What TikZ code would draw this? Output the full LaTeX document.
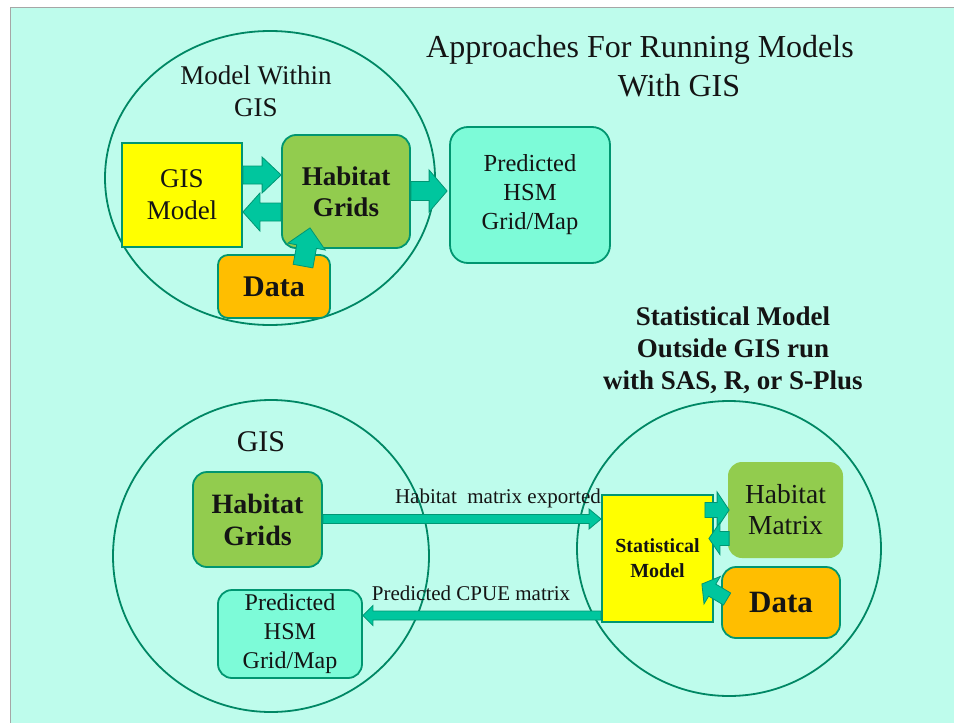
\documentclass[tikz,border=0pt]{standalone}
\usepackage{fontspec}
\setmainfont{Liberation Serif}
\usetikzlibrary{calc}
\definecolor{bgaqua}{RGB}{190,252,236}
\definecolor{ringcol}{RGB}{0,135,100}
\definecolor{boxline}{RGB}{0,150,112}
\definecolor{yel}{RGB}{255,255,0}
\definecolor{grn}{RGB}{146,204,78}
\definecolor{org}{RGB}{255,190,0}
\definecolor{aquabox}{RGB}{125,251,216}
\definecolor{arrfill}{RGB}{0,198,158}
\definecolor{arrline}{RGB}{0,150,115}
\definecolor{ink}{RGB}{20,20,20}
\newcommand\fs[2]{\fontsize{#1}{#2}\selectfont}
\newcommand\blockarrow[5]{%
  \coordinate (bah) at ($(#2)!#5!(#1)$);
  \draw[barrow] ($(#1)!#3!90:(#2)$) -- ($(bah)!#3!-90:(#1)$) -- ($(bah)!#4!-90:(#1)$) -- (#2)
    -- ($(bah)!#4!90:(#1)$) -- ($(bah)!#3!90:(#1)$) -- ($(#1)!#3!-90:(#2)$) -- cycle;
}
\tikzset{
  ring/.style={draw=ringcol, line width=1.8pt},
  box/.style={draw=boxline, line width=1.8pt, align=center, inner sep=0pt, text=ink},
  rbox/.style={box, rounded corners=14pt},
  barrow/.style={fill=arrfill, draw=arrline, line width=0.8pt, line join=miter},
  lbl/.style={align=center, text=ink, inner sep=0pt},
}
\begin{document}
\begin{tikzpicture}[x=1pt,y=-1pt]
\useasboundingbox (0,0) rectangle (954,723);
\fill[white] (0,0) rectangle (954,723);
\fill[bgaqua] (10,7) rectangle (954,723);
\draw[gray!70, line width=1pt] (10,723) -- (10,7) -- (954,7);

% title
\node[lbl, font=\fs{32}{36}] (t1) at (640,50) {Approaches For Running Models};
\node[lbl, font=\fs{32}{36}] (t2) at (679,86) {With GIS};

% ---------- top part ----------
\draw[ring] (270,178) ellipse [x radius=165, y radius=147];
\node[lbl, font=\fs{27}{32}] (mw) at (256,91) {Model Within\\GIS};
\node[box, fill=yel, minimum width=120pt, minimum height=104pt, font=\fs{27}{32}] (gm) at (182,195) {GIS\\Model};
\node[rbox, fill=grn, minimum width=128pt, minimum height=113pt, font=\fs{27}{31}\bfseries] (hg) at (346,191.5) {Habitat\\Grids};
\node[rbox, fill=org, minimum width=112pt, minimum height=63pt, rounded corners=10pt, font=\fs{30}{34}\bfseries] (d1) at (274,286.5) {Data};
\node[rbox, fill=aquabox, minimum width=160pt, minimum height=136pt, rounded corners=18pt, font=\fs{24.5}{29}] (p1) at (530,195) {Predicted\\HSM\\Grid/Map};

\coordinate (a1s) at ([yshift=20pt]gm.east);
\coordinate (a1e) at ([yshift=16.5pt]hg.west);
\blockarrow{a1s}{a1e}{9pt}{18pt}{19pt}
\coordinate (a2s) at ([yshift=-20.5pt]hg.west);
\coordinate (a2e) at ([yshift=-17pt]gm.east);
\blockarrow{a2s}{a2e}{9pt}{19pt}{17pt}
\coordinate (a3s) at ([yshift=0.5pt]hg.east);
\coordinate (a3e) at ([xshift=-2pt,yshift=4pt]p1.west);
\blockarrow{a3s}{a3e}{9.5pt}{21pt}{18pt}
\coordinate (a4s) at ([xshift=29pt,yshift=-12pt]d1.north);
\coordinate (a4e) at ([xshift=-36pt,yshift=21pt]hg.south);
\blockarrow{a4s}{a4e}{10pt}{19pt}{19pt}

% ---------- bottom part ----------
\node[lbl, font=\fs{27}{32}\bfseries] (sh) at (733,350) {Statistical Model\\Outside GIS run\\with SAS, R, or S-Plus};

\draw[ring] (271,556) ellipse [x radius=158, y radius=156];
\draw[ring] (729,548.5) ellipse [x radius=152, y radius=147.5];
\node[lbl, font=\fs{30}{34}] (gis) at (261,442) {GIS};

\node[rbox, fill=grn, minimum width=129pt, minimum height=95pt, font=\fs{28}{32}\bfseries] (hg2) at (257.5,519.5) {Habitat\\Grids};
\node[rbox, fill=aquabox, minimum width=144pt, minimum height=88pt, rounded corners=14pt, font=\fs{24}{29}] (p2) at (290,634) {Predicted\\HSM\\Grid/Map};
\node[box, fill=yel, minimum width=111pt, minimum height=127pt, font=\fs{20}{25}\bfseries] (sm) at (657.5,558.5) {Statistical\\Model};
\node[rbox, fill=grn, draw=none, minimum width=115pt, minimum height=96pt, font=\fs{27.5}{31}] (hm) at (785.5,510) {Habitat\\Matrix};
\node[rbox, fill=org, minimum width=118pt, minimum height=71pt, font=\fs{31}{34}\bfseries] (d2) at (781,602.5) {Data};

\coordinate (b1s) at (hg2.east |- 0,519);
\coordinate (b1e) at (sm.west |- 0,519);
\blockarrow{b1s}{b1e}{4.5pt}{10pt}{12pt}
\coordinate (b2s) at (sm.west |- 0,615.5);
\coordinate (b2e) at (p2.east |- 0,615.5);
\blockarrow{b2s}{b2e}{4.5pt}{10pt}{10pt}
\node[lbl, font=\fs{21}{24}] (l1) at (498,498) {Habitat\ \ matrix exported};
\node[lbl, font=\fs{21}{24}] (l2) at (471,593) {Predicted\ CPUE matrix};

\coordinate (c1s) at ([xshift=-9pt]sm.east |- 0,510);
\coordinate (c1e) at ([xshift=2pt]hm.west |- 0,510);
\blockarrow{c1s}{c1e}{7.5pt}{18pt}{12pt}
\coordinate (c2s) at ([xshift=2pt]hm.west |- 0,538.5);
\coordinate (c2e) at ([xshift=-5pt]sm.east |- 0,538.5);
\blockarrow{c2s}{c2e}{7pt}{16pt}{11pt}
\coordinate (c3s) at ([xshift=6pt]d2.west |- 0,599);
\coordinate (c3e) at ([xshift=-12pt]sm.east |- 0,584);
\blockarrow{c3s}{c3e}{7pt}{16pt}{12pt}
\end{tikzpicture}
\end{document}
